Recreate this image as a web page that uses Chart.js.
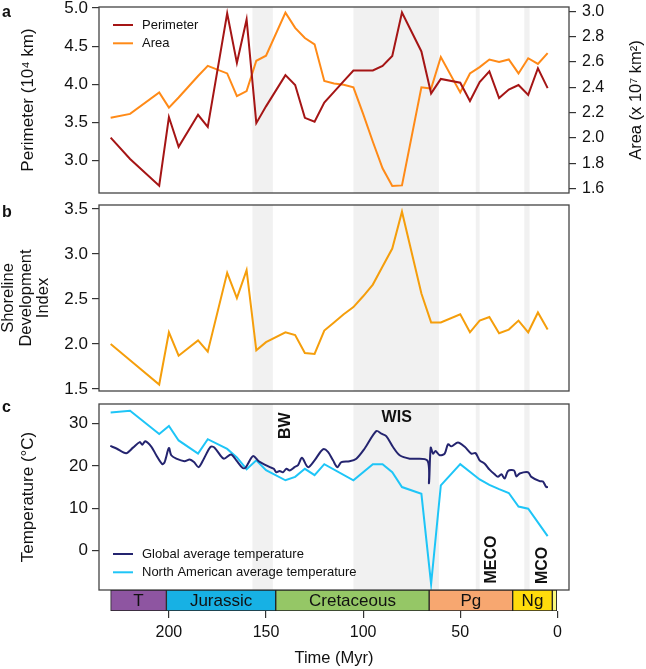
<!DOCTYPE html>
<html>
<head>
<meta charset="utf-8">
<script src="https://cdn.jsdelivr.net/npm/chart.js@4.4.1/dist/chart.umd.min.js"></script>
<style>
  html, body { margin: 0; padding: 0; background: #fff; }
  #wrap { position: relative; width: 646px; height: 669px; overflow: hidden; }
  canvas { position: absolute; left: 0; }
</style>
</head>
<body>
<div id="wrap">
  <canvas id="ca" width="646" height="200" style="top:0px"></canvas>
  <canvas id="cb" width="646" height="200" style="top:198px"></canvas>
  <canvas id="cc" width="646" height="200" style="top:397px"></canvas>
  <canvas id="cd" width="646" height="79" style="top:590px"></canvas>
</div>
<script>
// ---- data ----
const geoTime   = [230, 220, 205, 200, 195, 185, 180, 170, 165, 160, 155, 150, 140, 135, 130, 125, 120, 115, 110, 105, 100, 95, 90, 85, 80, 70, 65, 60, 50, 45, 40, 35, 30, 25, 20, 15, 10, 5];
const perimeter = [3.30, 3.02, 2.67, 3.57, 3.18, 3.60, 3.44, 4.93, 4.28, 4.85, 3.49, 3.71, 4.12, 3.99, 3.56, 3.51, 3.76, 3.90, 4.04, 4.18, 4.18, 4.18, 4.24, 4.37, 4.94, 4.43, 3.88, 4.07, 4.02, 3.78, 4.03, 4.17, 3.82, 3.93, 3.99, 3.86, 4.21, 3.95];
const area      = [2.16, 2.19, 2.36, 2.24, 2.32, 2.49, 2.57, 2.51, 2.33, 2.37, 2.61, 2.65, 2.99, 2.87, 2.79, 2.74, 2.45, 2.43, 2.42, 2.40, 2.19, 1.97, 1.76, 1.62, 1.625, 2.40, 2.39, 2.64, 2.36, 2.51, 2.56, 2.62, 2.60, 2.62, 2.51, 2.63, 2.585, 2.67];
const sdi       = [2.00, 1.82, 1.55, 2.13, 1.87, 2.04, 1.915, 2.79, 2.51, 2.82, 1.93, 2.02, 2.13, 2.10, 1.90, 1.89, 2.15, 2.24, 2.33, 2.41, 2.53, 2.66, 2.86, 3.06, 3.47, 2.56, 2.24, 2.24, 2.33, 2.13, 2.26, 2.30, 2.12, 2.16, 2.26, 2.13, 2.35, 2.16];

const globalTime = [230.2, 227, 222, 218.5, 215, 213.7, 212.2, 209, 206.5, 203.4, 202.2, 200, 198.8, 196.2, 192, 189.3, 187.1, 184.7, 182, 178.5, 176.5, 171.8, 168, 165.3, 162, 160.5, 156.7, 153.5, 148, 146, 144.7, 143, 141.3, 139.5, 137.8, 135.3, 133.5, 131.5, 128.4, 125, 120.7, 118.1, 115.5, 113.3, 111.2, 107, 103.5, 99.2, 93.2, 90.6, 88.1, 84.7, 81.2, 76, 67, 66.1, 65.2, 64, 62.7, 60.6, 58, 56.3, 54.6, 51.2, 47.7, 44.3, 42.1, 40, 37.4, 34.9, 32.3, 30.6, 28.8, 27.1, 25.4, 22.3, 21.1, 19.4, 15.1, 13.4, 9.1, 7.4, 5.7, 4.8];
const globalTemp = [24.7, 24.1, 23.0, 24.3, 25.6, 25.0, 25.8, 24.5, 22.5, 20.4, 20.9, 24.2, 22.5, 21.7, 21.1, 21.5, 20.9, 19.7, 21.7, 24.5, 24.3, 21.7, 22.7, 21.3, 19.5, 19.6, 22.3, 21.0, 19.7, 19.3, 18.5, 18.8, 18.5, 19.3, 18.9, 19.7, 20.2, 21.9, 19.7, 21.3, 23.9, 23.3, 21.3, 19.7, 20.9, 21.1, 21.7, 24.1, 28.2, 27.6, 27.0, 24.5, 22.5, 21.7, 21.3, 15.9, 24.3, 22.9, 23.5, 22.5, 22.9, 25.1, 24.6, 25.5, 24.5, 22.9, 23.0, 21.3, 20.5, 19.1, 18.0, 17.4, 18.0, 17.0, 18.8, 18.9, 17.5, 18.2, 18.5, 17.4, 16.4, 16.3, 15.0, 15.0];
const naTime = [230, 220, 205, 200, 195, 185, 180, 170, 165, 160, 155, 150, 140, 135, 130, 125, 120, 105, 95, 90, 85, 80, 70, 65, 60, 50, 40, 35, 30, 25, 20, 15, 5];
const naTemp = [32.6, 33.0, 27.5, 29.4, 26.0, 22.9, 26.3, 24.0, 22.0, 19.2, 21.3, 19.0, 16.6, 17.4, 19.3, 17.8, 20.4, 16.6, 20.4, 20.4, 18.5, 15.0, 13.4, -7.9, 15.4, 20.4, 16.8, 15.5, 14.5, 13.6, 10.4, 9.9, 3.4];

const perimTicks = [3.0, 3.5, 4.0, 4.5, 5.0];
const areaTicks  = [1.6, 1.8, 2.0, 2.2, 2.4, 2.6, 2.8, 3.0];
const sdiTicks   = [1.5, 2.0, 2.5, 3.0, 3.5];
const tempTicks  = [0, 10, 20, 30];
const timeTicks  = [0, 50, 100, 150, 200];

const bandNames = ['BW', 'WIS', 'MECO', 'MCO'];
const bandStart = [157, 105, 42, 17];
const bandEnd   = [146.5, 61, 40, 14.3];
const bandLabelTime = [140, 82.7, 33.9, 7.4];
const bandLabelTemp = [29.5, 31.5, -2.1, -3.5];
const bandLabelVertical = [true, false, true, true];

const periodNames  = ['T', 'Jurassic', 'Cretaceous', 'Pg', 'Ng', ''];
const periodStart  = [230, 201.3, 145, 66, 23, 2.6];
const periodEnd    = [201.3, 145, 66, 23, 2.6, 0];
const periodColors = ['#8e55a1', '#17b1e4', '#95c766', '#f7a770', '#ffdc0c', '#f9f77c'];

// ---- setup ----
const FONT = "'Liberation Sans', Arial, Helvetica, sans-serif";
Chart.defaults.font.family = FONT;
Chart.defaults.color = '#111';
Chart.defaults.animation = false;

const pts = (xs, ys) => xs.map((x, i) => ({ x: x, y: ys[i] }));

function timeAxis() {
  return { type: 'linear', min: -6, max: 236, reverse: true, display: false };
}

function valueAxis(pos, ticks, lo, hi, decimals, size, pad, width) {
  return {
    type: 'linear', position: pos, min: lo, max: hi,
    afterBuildTicks: s => { s.ticks = ticks.map(v => ({ value: v })); },
    afterFit: s => { s.width = width; s.paddingTop = 0; s.paddingBottom = 0; },
    ticks: { font: { size: size }, padding: pad, callback: v => v.toFixed(decimals) },
    grid: { drawOnChartArea: false, tickLength: 7, color: '#333', lineWidth: 1.2 },
    border: { display: false }
  };
}

const bandsPlugin = {
  id: 'bands',
  beforeDatasetsDraw(chart) {
    const { ctx, chartArea: a, scales: { x } } = chart;
    ctx.save();
    ctx.fillStyle = '#f1f1f1';
    bandStart.forEach((s, i) => {
      const x0 = x.getPixelForValue(s), x1 = x.getPixelForValue(bandEnd[i]);
      ctx.fillRect(Math.min(x0, x1), a.top, Math.abs(x1 - x0), a.bottom - a.top);
    });
    ctx.restore();
  },
  afterDraw(chart, args, opts) {
    const { ctx, chartArea: a } = chart;
    ctx.save();
    ctx.strokeStyle = '#444';
    ctx.lineWidth = 1.3;
    ctx.strokeRect(a.left, a.top, a.right - a.left, a.bottom - a.top);
    ctx.fillStyle = '#111';
    ctx.font = 'bold 16px ' + FONT;
    ctx.textBaseline = 'alphabetic';
    ctx.fillText(opts.letter, 2, opts.baseline);
    ctx.restore();
  }
};

const legendPlugin = {
  id: 'lgd',
  afterDraw(chart, args, opts) {
    if (!opts.show) return;
    const ctx = chart.ctx;
    ctx.save();
    ctx.font = '13px ' + FONT;
    ctx.textBaseline = 'middle';
    chart.data.datasets.forEach((ds, i) => {
      const y = opts.y + i * opts.dy;
      ctx.strokeStyle = ds.borderColor;
      ctx.lineWidth = 2;
      ctx.beginPath();
      ctx.moveTo(opts.x, y);
      ctx.lineTo(opts.x + 20, y);
      ctx.stroke();
      ctx.fillStyle = '#111';
      ctx.fillText(ds.label, opts.x + 29, y);
    });
    ctx.restore();
  }
};

const rightTitlePlugin = {
  id: 'rtitle',
  afterDraw(chart) {
    const ctx = chart.ctx;
    ctx.save();
    ctx.translate(636, 100);
    ctx.rotate(-Math.PI / 2);
    ctx.font = '16.5px ' + FONT;
    ctx.fillStyle = '#111';
    ctx.textAlign = 'center';
    ctx.textBaseline = 'middle';
    ctx.fillText('Area (x 10\u2077 km\u00b2)', 0, 0);
    ctx.restore();
  }
};

const bandLabelPlugin = {
  id: 'bandLabels',
  afterDatasetsDraw(chart) {
    const { ctx, scales: { x, y } } = chart;
    ctx.save();
    ctx.font = 'bold 16px ' + FONT;
    ctx.fillStyle = '#111';
    ctx.textAlign = 'center';
    ctx.textBaseline = 'middle';
    bandNames.forEach((name, i) => {
      const px = x.getPixelForValue(bandLabelTime[i]);
      const py = y.getPixelForValue(bandLabelTemp[i]);
      ctx.save();
      ctx.translate(px, py);
      if (bandLabelVertical[i]) ctx.rotate(-Math.PI / 2);
      ctx.fillText(name, 0, 0);
      ctx.restore();
    });
    ctx.restore();
  }
};

const periodLabelPlugin = {
  id: 'periodLabels',
  afterDatasetsDraw(chart) {
    const ctx = chart.ctx;
    const meta = chart.getDatasetMeta(0);
    ctx.save();
    ctx.font = '17px ' + FONT;
    ctx.fillStyle = '#111';
    ctx.textAlign = 'center';
    ctx.textBaseline = 'middle';
    meta.data.forEach((el, i) => {
      ctx.fillText(periodNames[i], (el.x + el.base) / 2, el.y + 0.5);
    });
    ctx.restore();
  }
};

const lineDs = (label, data, color, axis, width, tension) => ({
  label: label, data: data, yAxisID: axis, borderColor: color, backgroundColor: color,
  borderWidth: width, pointRadius: 0, tension: tension, fill: false
});

// ---- panel a ----
const yA = valueAxis('left', perimTicks, 2.574, 5.013, 1, 17, 4, 99);
yA.title = { display: true, text: 'Perimeter (10\u2074 km)', font: { size: 17 }, padding: { top: 18, bottom: 0 } };
new Chart(document.getElementById('ca'), {
  type: 'line',
  data: { datasets: [
    lineDs('Perimeter', pts(geoTime, perimeter), '#a51515', 'y', 2, 0),
    lineDs('Area', pts(geoTime, area), '#ff8a17', 'y2', 2, 0)
  ] },
  options: {
    responsive: false,
    layout: { padding: { top: 7, bottom: 7, left: 0, right: 0 } },
    plugins: { legend: { display: false }, tooltip: { enabled: false },
      bands: { letter: 'a', baseline: 16.5 },
      lgd: { show: true, x: 113, y: 25, dy: 18.3 } },
    scales: {
      x: timeAxis(),
      y: yA,
      y2: valueAxis('right', areaTicks, 1.565, 3.035, 1, 16, 6, 77)
    }
  },
  plugins: [bandsPlugin, legendPlugin, rightTitlePlugin]
});

// ---- panel b ----
const yB = valueAxis('left', sdiTicks, 1.478, 3.544, 1, 17, 4, 99);
yB.title = { display: true, text: ['Shoreline', 'Development', 'Index'], font: { size: 16.5, lineHeight: 1.05 }, padding: { top: 0, bottom: 0 } };
new Chart(document.getElementById('cb'), {
  type: 'line',
  data: { datasets: [ lineDs('Shoreline Development Index', pts(geoTime, sdi), '#f59e0b', 'y', 2, 0) ] },
  options: {
    responsive: false,
    layout: { padding: { top: 7, bottom: 7, left: 0, right: 77 } },
    plugins: { legend: { display: false }, tooltip: { enabled: false },
      bands: { letter: 'b', baseline: 19 }, lgd: { show: false } },
    scales: { x: timeAxis(), y: yB }
  },
  plugins: [bandsPlugin, legendPlugin]
});

// ---- panel c ----
const yC = valueAxis('left', tempTicks, -9.3, 34.6, 0, 17, 4, 99);
yC.title = { display: true, text: 'Temperature (\u00b0C)', font: { size: 17 }, padding: { top: 18, bottom: 0 } };
new Chart(document.getElementById('cc'), {
  type: 'line',
  data: { datasets: [
    lineDs('Global average temperature', pts(globalTime, globalTemp), '#24246f', 'y', 2, 0.3),
    lineDs('North American average temperature', pts(naTime, naTemp), '#1ec5f7', 'y', 2, 0)
  ] },
  options: {
    responsive: false,
    layout: { padding: { top: 7, bottom: 7, left: 0, right: 77 } },
    plugins: { legend: { display: false }, tooltip: { enabled: false },
      bands: { letter: 'c', baseline: 15 },
      lgd: { show: true, x: 113, y: 157, dy: 18.3 } },
    scales: { x: timeAxis(), y: yC }
  },
  plugins: [bandsPlugin, legendPlugin, bandLabelPlugin]
});

// ---- geologic time scale + time axis ----
new Chart(document.getElementById('cd'), {
  type: 'bar',
  data: {
    labels: ['geo'],
    datasets: [{
      data: periodStart.map((s, i) => ({ x: [s, periodEnd[i]], y: 'geo' })),
      backgroundColor: periodColors,
      borderColor: '#222',
      borderWidth: 1,
      borderSkipped: false,
      barPercentage: 1,
      categoryPercentage: 1
    }]
  },
  options: {
    indexAxis: 'y',
    responsive: false,
    layout: { padding: { top: 0, bottom: 0, left: 99, right: 77 } },
    plugins: { legend: { display: false }, tooltip: { enabled: false } },
    scales: {
      x: {
        type: 'linear', position: 'bottom', min: -6, max: 236, reverse: true,
        afterBuildTicks: s => { s.ticks = timeTicks.map(v => ({ value: v })); },
        afterFit: s => { s.height = 58; s.paddingLeft = 0; s.paddingRight = 0; },
        ticks: { font: { size: 16 }, padding: 5, maxRotation: 0, callback: v => String(v) },
        grid: { drawOnChartArea: false, tickLength: 7, color: '#333', lineWidth: 1.2 },
        border: { display: false },
        title: { display: true, text: 'Time (Myr)', font: { size: 16.5 }, padding: { top: 0, bottom: 1 } }
      },
      y: { type: 'category', display: false }
    }
  },
  plugins: [periodLabelPlugin]
});
</script>
</body>
</html>
